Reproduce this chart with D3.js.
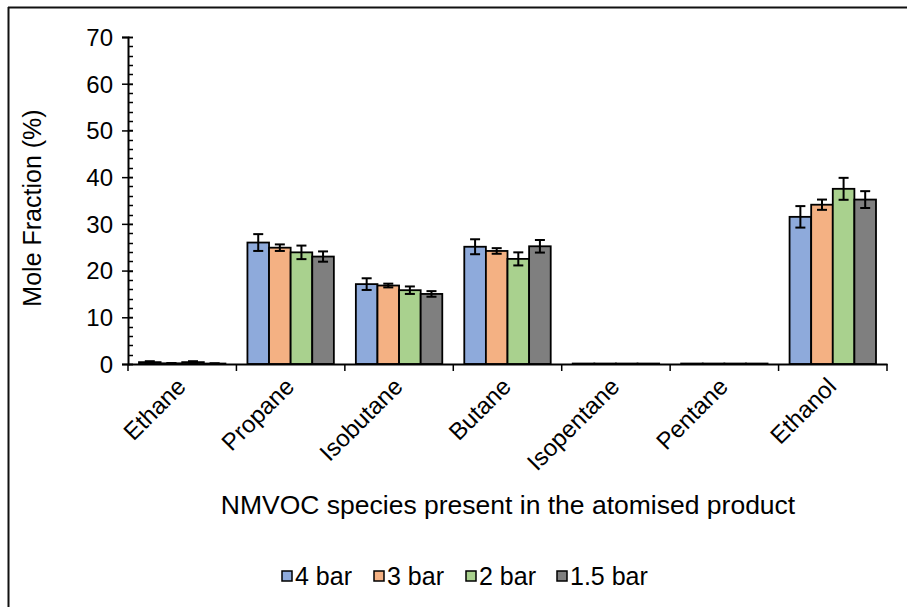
<!DOCTYPE html>
<html>
<head>
<meta charset="utf-8">
<script src="https://cdn.jsdelivr.net/npm/d3@7"></script>
<style>
  body { margin: 0; background: #fff; }
  text { font-family: "Liberation Sans", Arial, sans-serif; fill: #000; }
</style>
</head>
<body>
<div id="chart"></div>
<script>
var species = ["Ethane", "Propane", "Isobutane", "Butane", "Isopentane", "Pentane", "Ethanol"];
var pressures = ["4 bar", "3 bar", "2 bar", "1.5 bar"];
var colours = ["#8eaadb", "#f4b183", "#a9d18e", "#7f7f7f"];

// mean mole fraction (%) for each pressure, in species order
var bar4   = [0.4, 26.0, 17.1, 25.1, 0.1, 0.1, 31.5];
var bar3   = [0.15, 24.9, 16.8, 24.2, 0.1, 0.1, 34.1];
var bar2   = [0.4, 23.9, 15.8, 22.5, 0.1, 0.1, 37.5];
var bar1_5 = [0.1, 23.0, 15.0, 25.2, 0.1, 0.1, 35.2];

// error (+/-)
var err4   = [0.2, 1.8, 1.25, 1.6, 0, 0, 2.3];
var err3   = [0.05, 0.7, 0.4, 0.6, 0, 0, 1.1];
var err2   = [0.2, 1.45, 0.8, 1.4, 0, 0, 2.35];
var err1_5 = [0.05, 1.1, 0.6, 1.35, 0, 0, 1.8];

var yTicks = [0, 10, 20, 30, 40, 50, 60, 70];

var values = [bar4, bar3, bar2, bar1_5];
var errors = [err4, err3, err2, err1_5];

var W = 907, H = 607;
var plotL = 128, plotT = 37, plotR = 887, plotB = 364;

var svg = d3.select("#chart").append("svg")
    .attr("width", W)
    .attr("height", H);

// outer frame (only top and left visible in the crop)
svg.append("line").attr("x1", 8).attr("x2", W).attr("y1", 7.5).attr("y2", 7.5)
   .attr("stroke", "#111").attr("stroke-width", 2);
svg.append("line").attr("x1", 8.5).attr("x2", 8.5).attr("y1", 7).attr("y2", H)
   .attr("stroke", "#111").attr("stroke-width", 2);

var x = d3.scaleBand().domain(species).range([plotL, plotR]).paddingInner(0).paddingOuter(0);
var xs = d3.scaleBand().domain(pressures).range([11, x.bandwidth() - 11]);
var y = d3.scaleLinear().domain([0, 70]).range([plotB, plotT]);

// data rows
var rows = [];
species.forEach(function(s, i) {
  pressures.forEach(function(p, j) {
    rows.push({ sp: s, pr: p, v: values[j][i], e: errors[j][i], c: colours[j] });
  });
});

var g = svg.append("g");

// bars
g.selectAll("rect.bar")
  .data(rows)
  .enter().append("rect")
  .attr("class", "bar")
  .attr("x", function(d) { return x(d.sp) + xs(d.pr); })
  .attr("y", function(d) { return y(d.v); })
  .attr("width", xs.bandwidth())
  .attr("height", function(d) { return y(0) - y(d.v); })
  .attr("fill", function(d) { return d.c; })
  .attr("stroke", "#000")
  .attr("stroke-width", 1.8);

// error bars
var eb = g.selectAll("g.err")
  .data(rows.filter(function(d) { return d.e > 0; }))
  .enter().append("g")
  .attr("class", "err")
  .attr("transform", function(d) { return "translate(" + (x(d.sp) + xs(d.pr) + xs.bandwidth() / 2) + ",0)"; });
eb.append("line")
  .attr("y1", function(d) { return y(d.v + d.e); })
  .attr("y2", function(d) { return y(d.v - d.e); })
  .attr("stroke", "#000").attr("stroke-width", 2);
eb.append("line").attr("x1", -5).attr("x2", 5)
  .attr("y1", function(d) { return y(d.v + d.e); })
  .attr("y2", function(d) { return y(d.v + d.e); })
  .attr("stroke", "#000").attr("stroke-width", 2);
eb.append("line").attr("x1", -5).attr("x2", 5)
  .attr("y1", function(d) { return y(d.v - d.e); })
  .attr("y2", function(d) { return y(d.v - d.e); })
  .attr("stroke", "#000").attr("stroke-width", 2);

// y axis minor ticks (inside)
g.selectAll("line.minor")
  .data(d3.range(0, 70.1, 2))
  .enter().append("line")
  .attr("class", "minor")
  .attr("x1", plotL).attr("x2", plotL + 5)
  .attr("y1", function(d) { return Math.round(y(d)) + 0.5; })
  .attr("y2", function(d) { return Math.round(y(d)) + 0.5; })
  .attr("stroke", "#000").attr("stroke-width", 1.5);

// y axis
var yAxis = svg.append("g")
  .attr("transform", "translate(" + plotL + ",0)")
  .call(d3.axisLeft(y).tickValues(yTicks).tickSize(6).tickPadding(10));
yAxis.select(".domain").attr("stroke", "#000").attr("stroke-width", 2);
yAxis.selectAll(".tick line").attr("stroke", "#000").attr("stroke-width", 1.5).attr("x2", 5).attr("x1", -6);
yAxis.selectAll(".tick text").style("font-size", "24px").attr("x", -15).attr("dy", "0.35em");

// x axis with ticks at category boundaries
var xAxis = svg.append("g")
  .attr("transform", "translate(0," + plotB + ")")
  .call(d3.axisBottom(x).tickSize(0).tickSizeOuter(0));
xAxis.select(".domain").attr("stroke", "#000").attr("stroke-width", 2);
xAxis.selectAll(".tick text")
  .style("font-size", "24px")
  .attr("text-anchor", "end")
  .attr("y", 0)
  .attr("dy", 0)
  .attr("transform", "translate(5,24) rotate(-45)");
xAxis.selectAll("line.bound")
  .data(species.concat(["_end"]))
  .enter().append("line")
  .attr("class", "bound")
  .attr("x1", function(d, i) { return plotL + i * x.bandwidth(); })
  .attr("x2", function(d, i) { return plotL + i * x.bandwidth(); })
  .attr("y1", 0).attr("y2", 7)
  .attr("stroke", "#000").attr("stroke-width", 1.5);

// axis titles
svg.append("text")
  .attr("x", 508).attr("y", 514)
  .attr("text-anchor", "middle")
  .style("font-size", "26.5px")
  .text("NMVOC species present in the atomised product");

svg.append("text")
  .attr("transform", "translate(41,208) rotate(-90)")
  .attr("text-anchor", "middle")
  .style("font-size", "25px")
  .text("Mole Fraction (%)");

// legend
var legendX = [282, 374, 466, 557];
var lg = svg.selectAll("g.legend")
  .data(pressures)
  .enter().append("g")
  .attr("class", "legend")
  .attr("transform", function(d, i) { return "translate(" + legendX[i] + ",576)"; });
lg.append("rect")
  .attr("x", 0).attr("y", -5).attr("width", 10).attr("height", 10)
  .attr("fill", function(d, i) { return colours[i]; })
  .attr("stroke", "#000").attr("stroke-width", 1.5);
lg.append("text")
  .attr("x", 13).attr("y", 0).attr("dy", "0.35em")
  .style("font-size", "25px")
  .text(function(d) { return d; });
</script>
</body>
</html>
